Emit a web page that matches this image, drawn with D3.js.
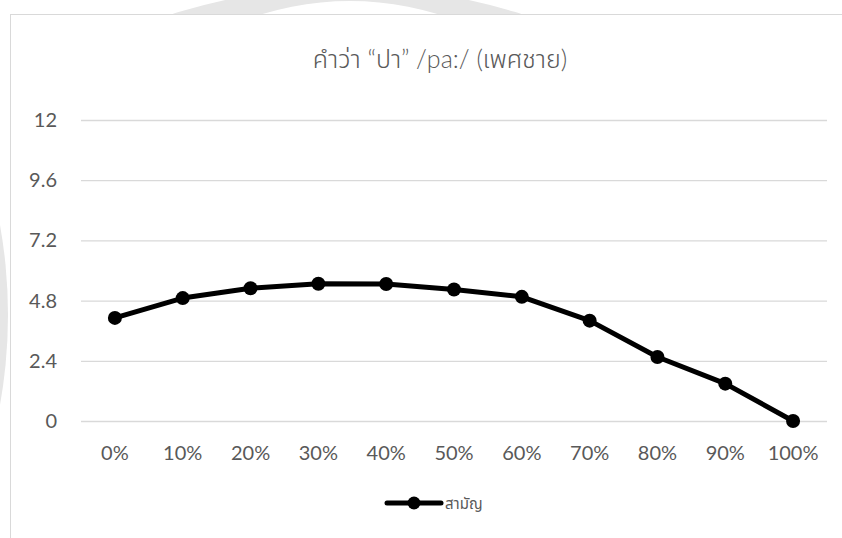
<!DOCTYPE html>
<html>
<head>
<meta charset="utf-8">
<script src="https://cdn.jsdelivr.net/npm/d3@7"></script>
<style>
  body { margin: 0; background: #ffffff; }
  svg { display: block; }
  text { font-family: Lato, "Noto Sans", "Noto Sans Thai", sans-serif; fill: #595959; }
</style>
</head>
<body>
<div id="chart"></div>
<script>

// data
const categories = ["0%", "10%", "20%", "30%", "40%", "50%", "60%", "70%", "80%", "90%", "100%"];
const values = [4.11, 4.9, 5.29, 5.47, 5.46, 5.24, 4.95, 4.0, 2.55, 1.49, 0];
const yTicks = [0, 2.4, 4.8, 7.2, 9.6, 12];
const seriesName = "สามัญ";
const title = "คำว่า “ปา” /pa:/ (เพศชาย)";

const w = 842, h = 538;

const svg = d3.select("#chart").append("svg")
    .attr("width", w)
    .attr("height", h);

// faint watermark behind the frame (only the bits outside the frame show)
svg.append("clipPath").attr("id", "topStrip")
  .append("rect").attr("x", 0).attr("y", -20).attr("width", w).attr("height", 34);

svg.append("path")
    .attr("clip-path", "url(#topStrip)")
    .attr("d", `M ${347 - 577},564 a 577,577 0 1,0 1154,0 a 577,577 0 1,0 -1154,0 Z
                M ${350 - 298},299 a 298,298 0 1,1 596,0 a 298,298 0 1,1 -596,0 Z`)
    .attr("fill", "#e6e6e6")
    .attr("fill-rule", "evenodd");

svg.append("circle")
    .attr("cx", -502)
    .attr("cy", 315)
    .attr("r", 510)
    .attr("fill", "#e6e6e6");

// chart frame
svg.append("rect")
    .attr("x", 10.5)
    .attr("y", 14.5)
    .attr("width", 860)
    .attr("height", 560)
    .attr("fill", "#ffffff")
    .attr("stroke", "#d9d9d9")
    .attr("stroke-width", 1);

const plot = { left: 81, right: 827, top: 120, bottom: 421 };

const x = d3.scaleBand()
    .domain(categories)
    .range([plot.left, plot.right]);

const y = d3.scaleLinear()
    .domain([0, 12])
    .range([plot.bottom, plot.top]);

// gridlines + y labels
const yAxis = d3.axisLeft(y)
    .tickValues(yTicks)
    .tickSize(-(plot.right - plot.left))
    .tickPadding(24)
    .tickFormat(d => d);

const gy = svg.append("g")
    .attr("transform", `translate(${plot.left},0)`)
    .call(yAxis);
gy.select(".domain").remove();
gy.selectAll(".tick line").attr("stroke", "#d9d9d9").attr("stroke-width", 1.3);
gy.selectAll(".tick text")
    .style("font-size", "20px")
    .attr("fill", "#595959");

// x labels
const xAxis = d3.axisBottom(x).tickSize(0).tickPadding(25);
const gx = svg.append("g")
    .attr("transform", `translate(0,${plot.bottom})`)
    .call(xAxis);
gx.select(".domain").remove();
gx.selectAll(".tick text")
    .style("font-size", "20px")
    .attr("fill", "#595959");

// series
const cx = d => x(d) + x.bandwidth() / 2;
const line = d3.line()
    .x((d, i) => cx(categories[i]))
    .y(d => y(d));

svg.append("path")
    .datum(values)
    .attr("d", line)
    .attr("fill", "none")
    .attr("stroke", "#000000")
    .attr("stroke-width", 5)
    .attr("stroke-linejoin", "round")
    .attr("stroke-linecap", "round");

svg.selectAll(".pt")
    .data(values)
    .enter().append("circle")
    .attr("class", "pt")
    .attr("cx", (d, i) => cx(categories[i]))
    .attr("cy", d => y(d))
    .attr("r", 7)
    .attr("fill", "#000000");

// title
svg.append("text")
    .attr("x", 440)
    .attr("y", 68)
    .attr("text-anchor", "middle")
    .style("font-size", "25px")
    .style("font-weight", 300)
    .text(title);

// legend
const lg = svg.append("g").attr("transform", "translate(387,503)");
lg.append("line")
    .attr("x1", 0).attr("x2", 54)
    .attr("stroke", "#000000")
    .attr("stroke-width", 5)
    .attr("stroke-linecap", "round");
lg.append("circle")
    .attr("cx", 27)
    .attr("r", 6.5)
    .attr("fill", "#000000");
lg.append("text")
    .attr("x", 58)
    .attr("y", 6)
    .style("font-size", "15px")
    .text(seriesName);

</script>
</body>
</html>
